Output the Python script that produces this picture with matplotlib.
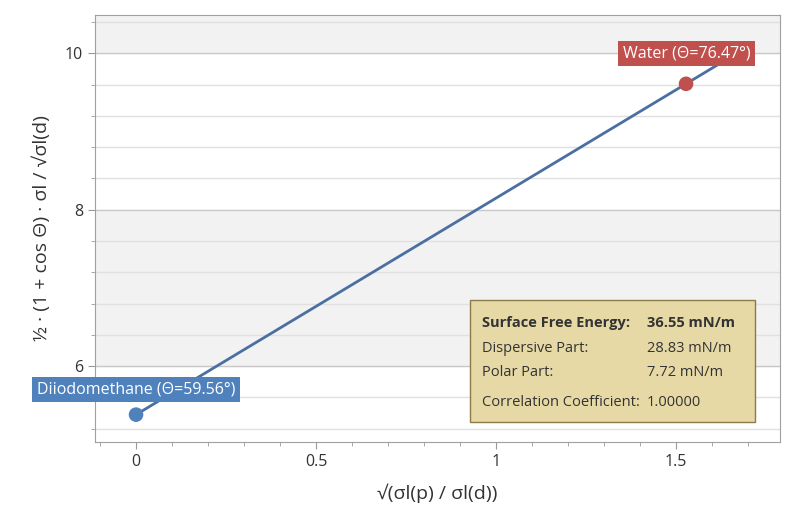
import matplotlib
matplotlib.use("Agg")
import matplotlib.pyplot as plt
from matplotlib.ticker import MultipleLocator

plt.rcParams["font.family"] = "Open Sans"

# liquids measured
liquids = ["Diiodomethane (Θ=59.56°)", "Water (Θ=76.47°)"]
x_vals = [0.0, 1.528]
y_vals = [5.38, 9.61]
point_colors = ["#4f81bd", "#c0504d"]

# regression line endpoints
fit_x = [0.0, 1.65]
slope = (y_vals[1] - y_vals[0]) / (x_vals[1] - x_vals[0])
fit_y = [y_vals[0] + slope * x for x in fit_x]

result_labels = ["Surface Free Energy:", "Dispersive Part:", "Polar Part:", "Correlation Coefficient:"]
result_values = ["36.55 mN/m", "28.83 mN/m", "7.72 mN/m", "1.00000"]

fig = plt.figure(figsize=(8, 5.29), dpi=100)
ax = fig.add_axes([95 / 800, 1 - 442 / 529, 685 / 800, 427 / 529])
ax.set_xlim(-0.114, 1.789)
ax.set_ylim(5.03, 10.49)

# alternating bands
for lo, hi in [(10, 12), (6, 8)]:
    ax.axhspan(lo, hi, color="#f2f2f2", zorder=0)

ax.yaxis.set_major_locator(MultipleLocator(2))
ax.yaxis.set_minor_locator(MultipleLocator(0.4))
ax.xaxis.set_major_locator(MultipleLocator(0.5))
ax.xaxis.set_minor_locator(MultipleLocator(0.1))
ax.grid(which="major", axis="y", color="#c8c8c8", lw=1, zorder=1)
ax.grid(which="minor", axis="y", color="#e0e0e0", lw=1, zorder=1)
ax.tick_params(which="both", color="#999999", labelsize=11.5, labelcolor="#333333")
ax.tick_params(which="major", length=5)
ax.tick_params(which="minor", length=3)
ax.set_xticks([0, 0.5, 1, 1.5])
ax.set_xticklabels(["0", "0.5", "1", "1.5"])
for s in ax.spines.values():
    s.set_color("#a0a0a0")

ax.plot(fit_x, fit_y, color="#4a6fa0", lw=2, zorder=3)
ax.scatter(x_vals, y_vals, s=90, c=point_colors, zorder=4)

ax.text(0.0, 5.70, liquids[0], fontsize=11.5, color="white", ha="center", va="center", zorder=5,
        bbox=dict(boxstyle="square,pad=0.3", fc="#4f81bd", ec="none"))
ax.text(1.53, 10.0, liquids[1], fontsize=11.5, color="white", ha="center", va="center", zorder=5,
        bbox=dict(boxstyle="square,pad=0.3", fc="#c0504d", ec="none"))

ax.set_xlabel("√(σl(p) / σl(d))", fontsize=14, color="#333333", labelpad=10)
ax.set_ylabel("½ · (1 + cos Θ) · σl / √σl(d)", fontsize=14, color="#333333", labelpad=10)

# results box
box = plt.Rectangle((470 / 800, 1 - 422 / 529), 285 / 800, 122 / 529, transform=fig.transFigure,
                    fc="#e6d9a6", ec="#8c7a4a", lw=1, zorder=6)
fig.add_artist(box)
rows_y = [323, 349, 372, 403]
for i, (lab, val) in enumerate(zip(result_labels, result_values)):
    weight = "bold" if i == 0 else "normal"
    fig.text(482 / 800, 1 - rows_y[i] / 529, lab, fontsize=10.5, weight=weight, color="#333333",
             va="center", zorder=7)
    fig.text(647 / 800, 1 - rows_y[i] / 529, val, fontsize=10.5, weight=weight, color="#333333",
             va="center", zorder=7)

fig.savefig("out.png", dpi=100)
